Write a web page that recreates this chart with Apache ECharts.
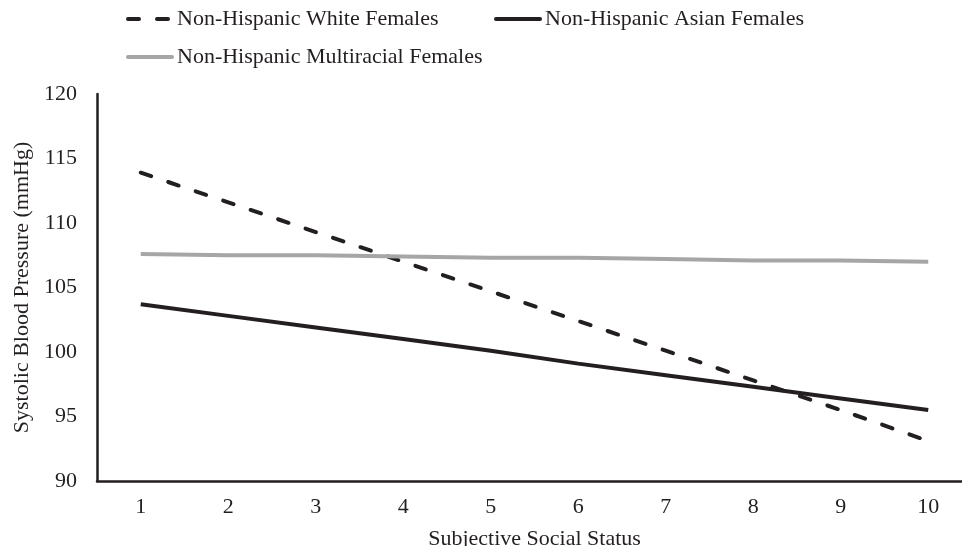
<!DOCTYPE html>
<html><head><meta charset="utf-8">
<script src="https://cdn.jsdelivr.net/npm/echarts@6/dist/echarts.min.js"></script>
<style>html,body{margin:0;padding:0;background:#fff;overflow:hidden}#c{width:100vw;height:100vh}</style>
</head><body><div id="c"></div>
<script>
var categories = ['1','2','3','4','5','6','7','8','9','10'];
var whiteF = [113.9, 111.6, 109.3, 107.0, 104.7, 102.4, 100.1, 97.8, 95.5, 93.1];
var asianF = [103.7, 102.8, 101.9, 101.0, 100.1, 99.1, 98.2, 97.3, 96.4, 95.5];
var multiF = [107.6, 107.5, 107.5, 107.4, 107.3, 107.3, 107.2, 107.1, 107.1, 107.0];
var names = ['Non-Hispanic White Females','Non-Hispanic Asian Females','Non-Hispanic Multiracial Females'];

var font = 'Liberation Serif';
var dark = '#231f20', gray = '#a6a6a6';
var chart = echarts.init(document.getElementById('c'));
var legText = {fontFamily: font, fontSize: 22, color: dark, padding: [0, 0, 0, 0]};
function leg(name, left, top, dash, color) {
  return {data: [name], left: left, top: top, itemWidth: 44, itemHeight: 4, padding: 0,
          textStyle: legText, itemStyle: {opacity: 0},
          lineStyle: {width: 4, color: color, type: dash, cap: 'round'}};
}
chart.setOption({
  animation: false,
  textStyle: {fontFamily: font},
  legend: [leg(names[0], 126, 8, [11, 18], dark), leg(names[1], 494, 8, 'solid', dark), leg(names[2], 126, 46, 'solid', gray)],
  grid: {left: 97, right: -10, top: 94, bottom: 65, containLabel: false, outerBoundsMode: 'none'},
  xAxis: {
    type: 'category', data: categories, boundaryGap: true,
    name: 'Subjective Social Status', nameLocation: 'middle', nameGap: 47,
    nameTextStyle: {fontFamily: font, fontSize: 22, color: dark},
    axisLine: {lineStyle: {color: dark, width: 2.5}},
    axisTick: {show: false},
    axisLabel: {fontFamily: font, fontSize: 22, color: dark, margin: 15}
  },
  yAxis: {
    type: 'value', min: 90, max: 120, interval: 5,
    name: 'Systolic Blood Pressure (mmHg)', nameLocation: 'middle', nameGap: 64,
    nameTextStyle: {fontFamily: font, fontSize: 22, color: dark},
    axisLine: {show: true, lineStyle: {color: dark, width: 2.5}},
    axisTick: {show: false},
    splitLine: {show: false},
    axisLabel: {fontFamily: font, fontSize: 22, color: dark, margin: 20}
  },
  series: [
    {name: names[0], type: 'line', data: whiteF, showSymbol: false, symbol: 'none',
     lineStyle: {color: dark, width: 4, type: [11, 18], cap: 'round'}, itemStyle: {color: dark}},
    {name: names[1], type: 'line', data: asianF, showSymbol: false, symbol: 'none',
     lineStyle: {color: dark, width: 4}, itemStyle: {color: dark}},
    {name: names[2], type: 'line', data: multiF, showSymbol: false, symbol: 'none',
     lineStyle: {color: gray, width: 4}, itemStyle: {color: gray}}
  ]
});
</script></body></html>
